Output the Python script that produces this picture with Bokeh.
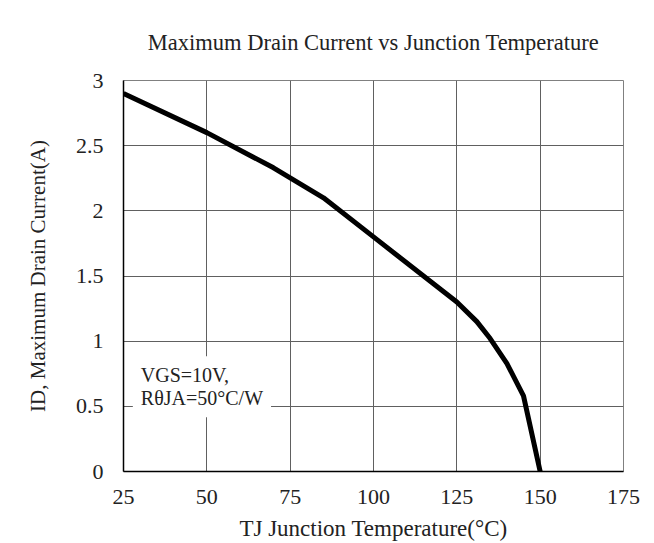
from bokeh.plotting import figure
from bokeh.models import Label, Range1d, FixedTicker, Title
from bokeh.embed import file_html
from bokeh.resources import INLINE

temps = [25, 50, 70, 85, 100, 125, 131, 135, 140, 145, 150]
current = [2.9, 2.6, 2.33, 2.1, 1.8, 1.3, 1.15, 1.02, 0.83, 0.58, 0.0]
x_ticks = [25, 50, 75, 100, 125, 150, 175]
y_ticks = [0, 0.5, 1, 1.5, 2, 2.5, 3]

FONT = "Liberation Serif"
TXT = "#222222"

p = figure(width=654, height=543, output_backend="svg", toolbar_location=None,
           x_range=Range1d(25, 175), y_range=Range1d(0, 3),
           min_border_left=122, min_border_right=31, min_border_top=80, min_border_bottom=72)
p.background_fill_color = "white"
p.outline_line_color = "#808080"
p.outline_line_width = 1

p.title.text = "Maximum Drain Current vs Junction Temperature"
p.title.align = "center"
p.title.text_font = FONT
p.title.text_font_size = "22.5px"
p.title.text_font_style = "normal"
p.title.text_color = TXT
p.title.standoff = 52

ylab = Title(text="ID, Maximum Drain Current(A)", align="center", offset=35,
             text_font=FONT, text_font_size="21px", text_font_style="normal",
             text_color=TXT, standoff=46)
p.add_layout(ylab, "left")

for ax, ticks in ((p.xaxis, x_ticks), (p.yaxis, y_ticks)):
    ax.ticker = FixedTicker(ticks=ticks)
    ax.axis_line_color = "black"
    ax.axis_line_width = 1.5
    ax.major_tick_line_color = None
    ax.minor_tick_line_color = None
    ax.major_label_text_font = FONT
    ax.major_label_text_font_size = "22px"
    ax.major_label_text_color = TXT
p.xaxis.major_label_standoff = 12
p.yaxis.major_label_standoff = 14

p.xaxis.axis_label = "TJ Junction Temperature(°C)"
p.xaxis.axis_label_text_font = FONT
p.xaxis.axis_label_text_font_size = "23px"
p.xaxis.axis_label_text_font_style = "normal"
p.xaxis.axis_label_text_color = TXT
p.xaxis.axis_label_standoff = 9

p.xgrid.grid_line_color = "#606060"
p.ygrid.grid_line_color = "#606060"
p.xgrid.ticker = FixedTicker(ticks=x_ticks)
p.ygrid.ticker = FixedTicker(ticks=y_ticks)

p.line(temps, current, line_width=5, line_color="black")

p.add_layout(Label(x=27.8, y=0.65, text="VGS=10V,\nRθJA=50°C/W",
                   text_font=FONT, text_font_size="20px", text_color=TXT,
                   text_align="left", text_baseline="middle", text_line_height=1.05,
                   background_fill_color="white", padding=8))

open("out.html", "w").write(file_html(p, INLINE))
